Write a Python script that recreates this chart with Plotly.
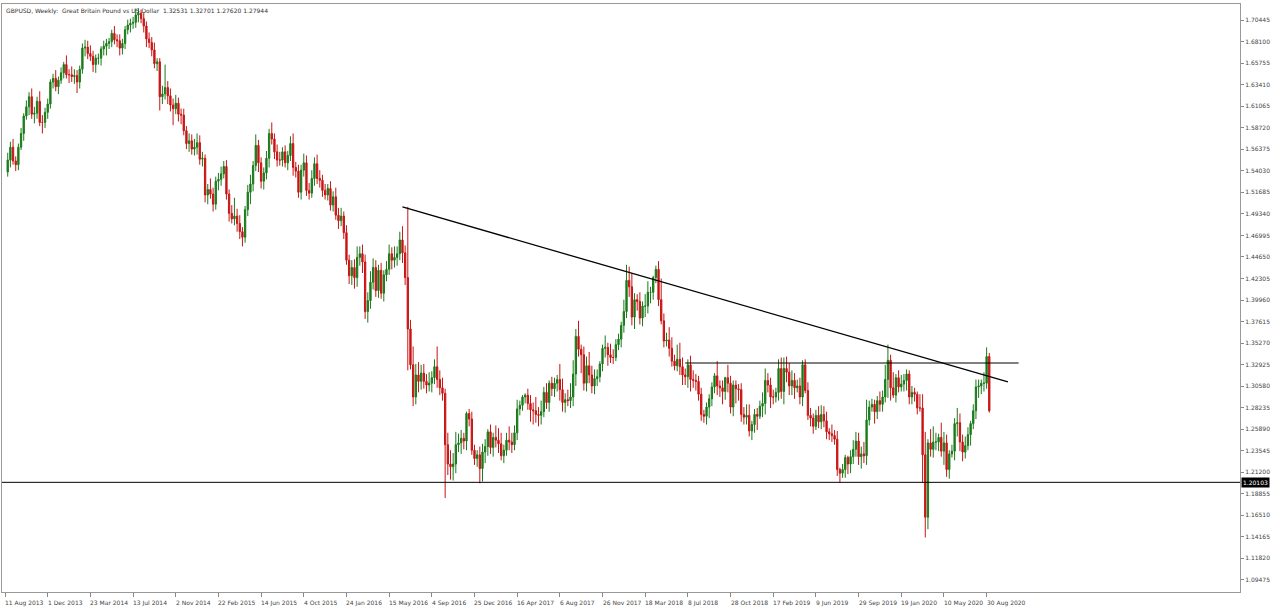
import plotly.graph_objects as go
import pandas as pd

TITLE = "GBPUSD, Weekly:  Great Britain Pound vs US Dollar  1.32531 1.32701 1.27620 1.27944"
FIRST_OPEN = 1.5390
# weekly closes (x1000), one row per month, Aug 2013 .. Sep 2020
CLOSE_ROWS = [
 [1552,1566,1551,1547],[1566,1581,1600,1610,1621],[1602,1603,1616,1593],[1593,1604,1613,1637],[1641,1632,1639,1647,1656],
 [1645,1645,1643,1644],[1637,1651,1674,1675],[1668,1665,1656,1663,1663],[1673,1676,1679,1681],[1690,1683,1682,1674],
 [1679,1694,1699,1701,1702],[1710,1712,1706,1698],[1684,1680,1672,1657,1659],[1621,1624,1631,1622],[1612,1608,1614,1602],
 [1601,1584,1570,1573,1564],[1566,1571,1553,1554],
 [1514,1520,1515,1504],[1529,1531,1537,1545],[1515,1494,1488,1491,1483],[1474,1468,1498,1517],[1526,1546,1568,1549,1529],
 [1538,1554,1581,1575],[1561,1552,1552,1561],[1549,1557,1570,1544,1540],[1517,1541,1549,1519],[1516,1532,1548,1532],
 [1530,1519,1514,1521,1503],[1512,1492,1486,1491],
 [1473,1443,1426,1435,1424],[1446,1450,1441,1387],[1399,1419,1435,1410],[1432,1407,1427,1433],[1450,1443,1446,1450,1465],
 [1451,1424,1368],[1329,1294,1318,1311,1320],[1311,1307,1309,1315],[1327,1313,1304,1298],[1242,1221,1218,1221],
 [1242,1244,1249,1246],[1276,1270,1236,1227],
 [1231,1216,1234,1240,1256],[1239,1250,1247,1243],[1230,1236,1247,1245],[1242,1255,1281,1285,1294],[1296,1287,1280,1279],
 [1275,1274,1278,1299],[1288,1309,1303,1309,1313],[1302,1288,1291,1290],[1294,1319,1360,1346],[1340,1309,1328,1318,1306],
 [1314,1316,1330,1347],[1348,1340,1337,1337,1351],
 [1357,1372,1387,1421],[1414,1381,1400,1398],[1380,1393,1393,1408],[1408,1424,1433,1400,1377],[1355,1356,1347,1333],
 [1328,1335,1327,1318],[1316,1329,1313,1312,1311],[1297,1275,1273,1283],[1292,1305,1317,1306,1304],[1300,1315,1309,1283],
 [1307,1303,1302,1275],[1272,1274,1257,1264,1275],
 [1273,1284,1287,1312],[1307,1294,1294,1299],[1325,1300,1325,1321,1306],[1312,1304,1306,1294],[1329,1301,1274,1271],
 [1262,1274,1267,1275,1268],[1256,1254,1252,1248],[1215,1211,1215,1228],[1221,1229,1237,1246,1229],[1232,1230,1269,1283],
 [1286,1278,1290,1286],[1294,1313,1334,1304,1296],
 [1315,1305,1308,1312],[1319,1294,1299,1297],[1282,1282,1231,1163,1244],[1237,1245,1245,1250],[1235,1244,1215,1232,1235],
 [1265,1266,1245,1234],[1241,1253,1265,1279],[1305,1306,1309,1309,1338],[1279],
]
# upper wicks (x0.001)
UPPER_ROWS = [
 [8,6,9,5],[4,6,3,7,5],[9,7,5,11],[8,5,6,3],[5,9,4,6,3],
 [10,6,9,7],[6,4,5,8],[7,9,6,4,5],[3,6,5,4],[4,8,6,7],
 [5,4,6,5,6],[7,5,4,6],[5,7,6,8,4],[4,9,25,7],[8,7,9,6],
 [6,7,5,8,7],[9,10,8,7],
 [4,6,12,7],[5,7,8,6],[7,5,9,20,8],[9,5,4,8],[10,5,12,6,6],
 [6,8,5,12],[6,8,9,5],[7,5,8,11,6],[7,6,10,8],[8,9,7,10],
 [9,6,7,5,8],[6,10,8,9],
 [5,8,6,8,9],[12,8,10,8],[9,12,10,8],[6,8,5,9],[10,7,12,8,9],
 [15,8,77],[10,20,12,14,9],[10,8,12,7],[8,22,10,11],[5,13,15,12],
 [14,10,9,6],[2,5,8,6],
 [5,9,9,8,3],[8,5,13,13],[12,6,8,15],[10,8,10,5,2],[2,7,9,8],
 [15,8,12,6],[10,3,7,6,5],[17,12,7,11],[15,15,8,17],[5,9,10,15,10],
 [10,8,3,4],[13,5,12,9,6],
 [6,4,13,17],[15,15,7,6],[10,5,13,12],[6,2,4,9,23],[8,8,14,12],
 [7,16,18,10],[7,6,10,10,7],[6,7,5,5],[5,5,3,16,6],[8,1,14,8],
 [5,5,5,7],[8,12,12,4,6],
 [7,6,12,13],[8,8,8,5],[10,12,12,13,10],[11,8,7,9],[5,6,9,8],
 [5,6,10,10,9],[10,4,10,6],[9,2,6,3],[2,7,10,10,9],[8,13,22,7],
 [6,5,5,10],[7,16,17,6,17],
 [4,8,10,7],[5,4,7,5],[3,15,15,25,4],[15,17,10,4],[16,12,9,4,7],
 [6,16,10,8],[10,8,3,7],[8,7,4,12,10],[4],
]
# lower wicks (x0.001)
LOWER_ROWS = [
 [5,8,4,7],[6,3,8,4,9],[5,10,6,4],[12,6,7,5],[7,5,8,4,6],
 [4,9,6,8],[12,7,5,9],[6,5,8,9,7],[8,7,10,6],[6,5,7,8],
 [7,6,5,8,6],[6,8,5,7],[9,6,7,5,8],[15,8,6,9],[7,18,6,8],
 [10,5,6,9,6],[7,8,6,8],
 [8,10,5,8],[6,10,7,5],[6,9,5,7,9],[8,10,6,7],[13,8,6,10,8],
 [9,7,10,6],[8,7,6,7],[5,8,6,9,7],[6,8,7,6],[7,5,8,6],
 [8,7,5,6,6],[7,5,9,6],
 [7,5,9,10,12],[10,9,12,8],[12,9,8,7],[8,6,9,7],[6,10,8,9,7],
 [11,8,45],[5,10,8,12,9],[8,9,7,10],[7,9,8,8],[58,12,14,15],
 [10,8,12,9],[10,8,5,7],
 [9,16,14,12,10],[7,10,8,10],[5,8,6,9],[9,6,8,7,6],[7,7,13,15],
 [9,12,10,6],[7,10,8,9,9],[12,10,11,6],[8,10,13,8],[20,8,9,9,8],
 [9,8,6,8],[10,12,6,7,4],
 [6,9,8,7],[11,9,13,10],[7,9,12,8],[12,8,6,7,4],[7,6,9,6],
 [5,6,9,11],[9,12,13,8,10],[7,7,7,9],[12,8,7,10,10],[14,9,10,7],
 [10,16,12,8],[8,8,6,10,9],
 [15,3,12,12],[8,12,8,6],[9,8,14,11,10],[10,12,5,8],[10,3,5,9],
 [8,4,7,8,7],[8,7,7,6],[7,10,5,9],[11,10,8,8,9],[13,8,10,6],
 [5,13,8,8],[8,6,20,14,3],
 [8,6,5,8],[11,8,8,8],[7,4,30,22,13],[8,9,9,10],[6,15,8,10,4],
 [10,14,10,10],[7,5,12,6],[9,12,9,9,6],[2],
]
LAST_WEEK = "2020-09-06"
Y_TICKS = [1.70445,1.68100,1.65755,1.63410,1.61065,1.58720,1.56375,1.54030,1.51685,1.49340,1.46995,
           1.44650,1.42305,1.39960,1.37615,1.35270,1.32925,1.30580,1.28235,1.25890,1.23545,1.21200,
           1.18855,1.16510,1.14165,1.11820,1.09475]
X_TICKS = ["2013-08-11","2013-12-01","2014-03-23","2014-07-13","2014-11-02","2015-02-22","2015-06-14",
           "2015-10-04","2016-01-24","2016-05-15","2016-09-04","2016-12-25","2017-04-16","2017-08-06",
           "2017-11-26","2018-03-18","2018-07-08","2018-10-28","2019-02-17","2019-06-09","2019-09-29",
           "2020-01-19","2020-05-10","2020-08-30"]
X_LABELS = ["11 Aug 2013","1 Dec 2013","23 Mar 2014","13 Jul 2014","2 Nov 2014","22 Feb 2015","14 Jun 2015",
            "4 Oct 2015","24 Jan 2016","15 May 2016","4 Sep 2016","25 Dec 2016","16 Apr 2017","6 Aug 2017",
            "26 Nov 2017","18 Mar 2018","8 Jul 2018","28 Oct 2018","17 Feb 2019","9 Jun 2019","29 Sep 2019",
            "19 Jan 2020","10 May 2020","30 Aug 2020"]
SUPPORT = 1.20103
RES_LEVEL = 1.3310
RES_SPAN = ["2018-07-01", "2020-11-22"]
TREND_X = ["2016-06-19", "2020-10-25"]
TREND_Y = [1.5010, 1.3104]

close = [c / 1000 for row in CLOSE_ROWS for c in row]
uw = [u / 1000 for row in UPPER_ROWS for u in row]
lw = [l / 1000 for row in LOWER_ROWS for l in row]
n = min(len(close), len(uw), len(lw))
close, uw, lw = close[:n], uw[:n], lw[:n]
opn = [FIRST_OPEN] + close[:-1]
high = [max(o, c) + u for o, c, u in zip(opn, close, uw)]
low = [min(o, c) - l for o, c, l in zip(opn, close, lw)]
dates = pd.date_range(end=LAST_WEEK, periods=n, freq="7D")

fig = go.Figure()
fig.add_trace(go.Candlestick(
    x=dates, open=opn, high=high, low=low, close=close,
    increasing=dict(line=dict(color="#1a7a1a", width=1), fillcolor="#1a7a1a"),
    decreasing=dict(line=dict(color="#c81414", width=1), fillcolor="#c81414"),
    whiskerwidth=0, showlegend=False, hoverinfo="skip"))
fig.add_trace(go.Scatter(x=TREND_X, y=TREND_Y, mode="lines",
                         line=dict(color="black", width=1.3), showlegend=False, hoverinfo="skip"))
fig.add_trace(go.Scatter(x=RES_SPAN, y=[RES_LEVEL, RES_LEVEL], mode="lines",
                         line=dict(color="black", width=1), showlegend=False, hoverinfo="skip"))
fig.add_hline(y=SUPPORT, line=dict(color="black", width=1))
fig.add_annotation(xref="paper", yref="y", x=1.0, y=SUPPORT, text="1.20103", showarrow=False,
                   xanchor="left", xshift=1, bgcolor="black", font=dict(color="white", size=6, family="DejaVu Sans"),
                   borderpad=1)
fig.add_annotation(xref="paper", yref="paper", x=0.0, y=1.0, text=TITLE, showarrow=False,
                   xanchor="left", yanchor="top", xshift=2, yshift=-1,
                   font=dict(color="#333", size=6, family="DejaVu Sans"))
for d, t in zip(X_TICKS, X_LABELS):
    fig.add_annotation(xref="x", yref="paper", x=d, y=0, text=t, showarrow=False,
                       xanchor="left", yanchor="top", xshift=-2, yshift=-5,
                       font=dict(color="#444", size=6, family="DejaVu Sans"))

start = pd.Timestamp("2013-08-11")
fig.update_layout(
    width=1280, height=614, paper_bgcolor="white", plot_bgcolor="white",
    margin=dict(l=2, r=40, t=4, b=22, autoexpand=False),
    xaxis=dict(type="date", rangeslider=dict(visible=False), automargin=False,
               range=[start - pd.Timedelta(days=8), start + pd.Timedelta(weeks=463)],
               tickvals=X_TICKS, showticklabels=False, ticks="outside", ticklen=4,
               tickcolor="#888", showgrid=False, zeroline=False,
               showline=True, linecolor="#999", mirror=True),
    yaxis=dict(side="right", range=[1.0816, 1.7220], tickvals=Y_TICKS, automargin=False,
               ticktext=[f"{v:.5f}" for v in Y_TICKS], ticks="outside", ticklen=3,
               tickcolor="#888", showgrid=False, zeroline=False,
               showline=True, linecolor="#999", mirror=True,
               tickfont=dict(size=6, color="#444", family="DejaVu Sans")),
)
fig.write_html("out.html", config={"displayModeBar": False},
               post_script="document.body.style.margin='0';document.body.style.overflow='hidden';")
